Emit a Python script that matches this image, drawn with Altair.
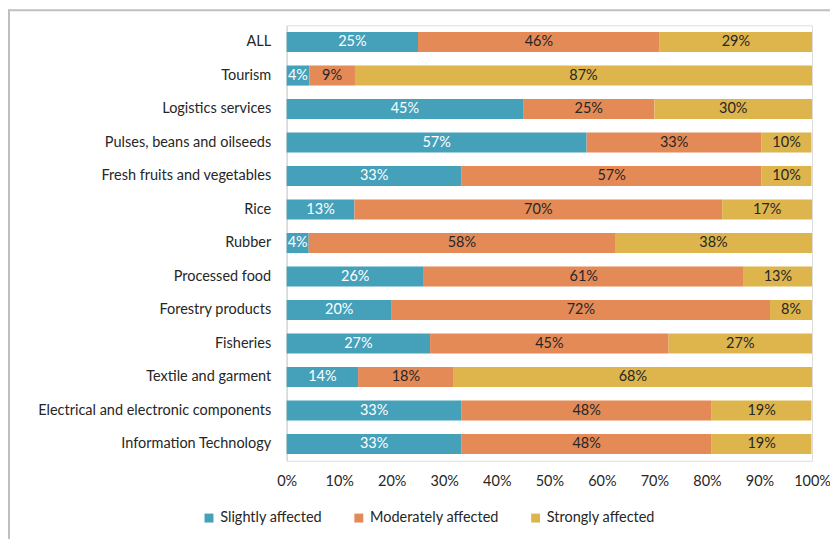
import altair as alt
import pandas as pd

categories = [
    "ALL", "Tourism", "Logistics services", "Pulses, beans and oilseeds",
    "Fresh fruits and vegetables", "Rice", "Rubber", "Processed food",
    "Forestry products", "Fisheries", "Textile and garment",
    "Electrical and electronic components", "Information Technology",
]
slightly = [25.0, 4.3, 45.0, 57.1, 33.3, 12.9, 4.2, 26.1, 20.0, 27.3, 13.6, 33.3, 33.3]
moderately = [46.0, 8.7, 25.0, 33.3, 57.1, 70.0, 58.3, 60.9, 72.0, 45.4, 18.2, 47.6, 47.6]
strongly = [29.0, 87.0, 30.0, 9.5, 9.5, 17.1, 37.5, 13.0, 8.0, 27.3, 68.2, 19.0, 19.0]
series_names = ["Slightly affected", "Moderately affected", "Strongly affected"]
series_colors = ["#45A0BA", "#E48A57", "#DDB54C"]
x_ticks = [0, 10, 20, 30, 40, 50, 60, 70, 80, 90, 100]

rows = []
for i, c in enumerate(categories):
    for k, (name, vals) in enumerate(zip(series_names, [slightly, moderately, strongly])):
        v = vals[i]
        rows.append({"category": c, "series": name, "order": k, "value": v,
                     "label": f"{int(v + 0.5):d}%"})
df = pd.DataFrame(rows)

FONT = "Lato"
FS = 14.5
W, H = 526, 436

base = alt.Chart(df).transform_stack(
    stack="value", as_=["x0", "x1"], groupby=["category"],
    sort=[alt.SortField("order", order="ascending")],
).transform_calculate(mid="(datum.x0 + datum.x1) / 2")

y_enc = alt.Y("category:N", sort=categories, title=None,
              scale=alt.Scale(paddingInner=0.4, paddingOuter=0.2),
              axis=alt.Axis(ticks=False, labelFontSize=FS, labelColor="#262626",
                            labelPadding=16, domainColor="#D9D9D9", domainWidth=1.5,
                            labelFont=FONT, labelLimit=300))

bars = base.mark_bar().encode(
    x=alt.X("x0:Q", scale=alt.Scale(domain=[0, 100], nice=False),
            title=None,
            axis=alt.Axis(values=x_ticks, labelExpr="datum.value + '%'", grid=False,
                          domain=False, ticks=False, labelFontSize=FS,
                          labelColor="#262626", labelPadding=14, labelFont=FONT,
                          labelFlush=False)),
    x2="x1:Q",
    y=y_enc,
    color=alt.Color("series:N", sort=series_names,
                    scale=alt.Scale(domain=series_names, range=series_colors),
                    legend=alt.Legend(title=None, orient="none", direction="horizontal",
                                      legendX=-85, legendY=486, symbolType="square",
                                      symbolSize=80, symbolStrokeWidth=0,
                                      labelFontSize=FS, labelFont=FONT,
                                      labelColor="#262626", columnPadding=29,
                                      labelOffset=4)),
    order=alt.Order("order:Q"),
)

text = base.mark_text(fontSize=FS, font=FONT).encode(
    x=alt.X("mid:Q"),
    y=alt.Y("category:N", sort=categories),
    text="label:N",
    color=alt.condition(alt.datum.order == 0, alt.value("white"), alt.value("#262626")),
)

frame_data = alt.Data(values=[{"a": 1}])
left_border = alt.Chart(frame_data).mark_rule(color="#BFBFBF", strokeWidth=2).encode(
    x=alt.value(-278), y=alt.value(-16), y2=alt.value(H + 100))
top_border = alt.Chart(frame_data).mark_rule(color="#BFBFBF", strokeWidth=2).encode(
    x=alt.value(-279), x2=alt.value(W + 20), y=alt.value(-15))

chart = alt.layer(bars, text, left_border, top_border).properties(
    width=W, height=H,
    autosize=alt.AutoSizeParams(type="none"),
    padding={"left": 279, "top": 17, "right": 18, "bottom": 78},
).configure_view(stroke=None).configure(font=FONT)

chart.save("out.html", embed_options={"renderer": "svg", "actions": False})
